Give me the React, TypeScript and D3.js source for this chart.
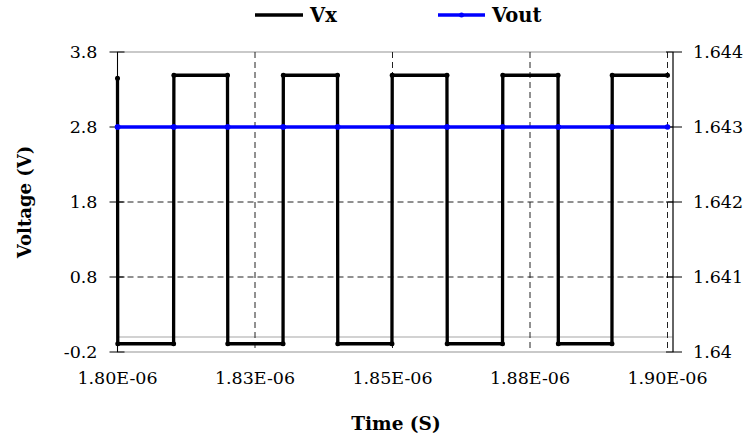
import React from "react";
import * as d3 from "d3";

// Time offsets from 1.80E-06 s, in nanoseconds
const timeNs = [0, 0.05, 10.2, 10.25, 20.0, 20.05, 30.1, 30.15, 40.0, 40.05, 49.9, 49.95, 59.9, 59.95, 70.0, 70.05, 80.1, 80.15, 89.9, 89.95, 100];
const vx = [3.45, -0.09, -0.09, 3.49, 3.49, -0.09, -0.09, 3.49, 3.49, -0.09, -0.09, 3.49, 3.49, -0.09, -0.09, 3.49, 3.49, -0.09, -0.09, 3.49, 3.49];
const vout = [1.643, 1.643, 1.643, 1.643, 1.643, 1.643, 1.643, 1.643, 1.643, 1.643, 1.643, 1.643, 1.643, 1.643, 1.643, 1.643, 1.643, 1.643, 1.643, 1.643, 1.643];

const xTickValues = [1.8e-6, 1.825e-6, 1.85e-6, 1.875e-6, 1.9e-6];
const xTickLabels = ["1.80E-06", "1.83E-06", "1.85E-06", "1.88E-06", "1.90E-06"];
const yLeftTicks = [-0.2, 0.8, 1.8, 2.8, 3.8];
const yLeftLabels = ["-0.2", "0.8", "1.8", "2.8", "3.8"];
const yRightTicks = [1.64, 1.641, 1.642, 1.643, 1.644];
const yRightLabels = ["1.64", "1.641", "1.642", "1.643", "1.644"];

const W = 754, H = 437;
const L = 117.5, R = 673, T = 52, B = 352;
const FONT = "'DejaVu Serif', serif";

export default function App() {
  const x = d3.scaleLinear().domain([1.8e-6, 1.901e-6]).range([L, R]);
  const y = d3.scaleLinear().domain([-0.2, 3.8]).range([B, T]);
  const y2 = d3.scaleLinear().domain([1.64, 1.644]).range([B, T]);
  const tSec = timeNs.map((t) => 1.8e-6 + t * 1e-9);

  const vxLine = d3.line<number>().x((_, i) => x(tSec[i])).y((d) => y(d));
  const voutLine = d3.line<number>().x((_, i) => x(tSec[i])).y((d) => y2(d));
  const txt = { fontFamily: FONT };

  return (
    <svg width={W} height={H} style={{ position: "absolute", left: 0, top: 0, background: "#fff" }}>
      {/* plot border (gray) */}
      <rect x={L} y={T} width={R - L} height={B - T} fill="none" stroke="#a6a6a6" strokeWidth={1.2} />
      {/* zero line */}
      <line x1={L} x2={R} y1={y(0)} y2={y(0)} stroke="#a6a6a6" strokeWidth={1.2} />
      {/* horizontal dashed gridlines */}
      {yLeftTicks.filter((v) => v > -0.2 && v < 3.8).map((v) => (
        <line key={"hg" + v} x1={L} x2={R} y1={y(v)} y2={y(v)} stroke="#222" strokeWidth={1} strokeDasharray="6,4" />
      ))}
      {/* vertical dashed gridlines */}
      {xTickValues.slice(1).map((v) => (
        <line key={"vg" + v} x1={x(v)} x2={x(v)} y1={T} y2={B} stroke="#222" strokeWidth={1} strokeDasharray="6,4" />
      ))}
      {/* left axis */}
      <line x1={L} x2={L} y1={T} y2={B} stroke="#000" strokeWidth={1} />
      {yLeftTicks.map((v, i) => (
        <g key={"yl" + v}>
          <line x1={L - 8} x2={L + 7} y1={y(v)} y2={y(v)} stroke="#000" strokeWidth={1} />
          <text x={L - 20} y={y(v)} dy="0.36em" textAnchor="end" style={txt} fontSize={17.5}>{yLeftLabels[i]}</text>
        </g>
      ))}
      {/* right axis */}
      <line x1={R} x2={R} y1={T} y2={B} stroke="#000" strokeWidth={1} />
      {yRightTicks.map((v, i) => (
        <g key={"yr" + v}>
          <line x1={R - 7} x2={R + 9} y1={y2(v)} y2={y2(v)} stroke="#000" strokeWidth={1} />
          <text x={R + 20} y={y2(v)} dy="0.36em" textAnchor="start" style={txt} fontSize={17.5}>{yRightLabels[i]}</text>
        </g>
      ))}
      {/* x tick labels */}
      {xTickValues.map((v, i) => (
        <text key={"xl" + v} x={x(v)} y={384} textAnchor="middle" style={txt} fontSize={17.5}>{xTickLabels[i]}</text>
      ))}
      {/* series */}
      <path d={vxLine(vx) || ""} fill="none" stroke="#000" strokeWidth={3.3} strokeLinejoin="miter" />
      {vx.map((v, i) => (
        <circle key={"vxm" + i} cx={x(tSec[i])} cy={y(v)} r={2.5} fill="#000" />
      ))}
      <path d={voutLine(vout) || ""} fill="none" stroke="#0000ff" strokeWidth={3.5} />
      {vout.map((v, i) => (
        <circle key={"vom" + i} cx={x(tSec[i])} cy={y2(v)} r={2.8} fill="#0000ff" />
      ))}
      {/* axis titles */}
      <text x={396} y={430} textAnchor="middle" style={txt} fontWeight="bold" fontSize={18.5}>Time (S)</text>
      <text transform={`translate(31,${(T + B) / 2}) rotate(-90)`} textAnchor="middle" style={txt} fontWeight="bold" fontSize={18}>Voltage (V)</text>
      {/* legend */}
      <line x1={255} x2={303} y1={15} y2={15} stroke="#000" strokeWidth={3.3} />
      <text x={310} y={22} style={txt} fontWeight="bold" fontSize={19.5}>Vx</text>
      <line x1={438} x2={485} y1={15} y2={15} stroke="#0000ff" strokeWidth={3.5} />
      <circle cx={461.5} cy={15} r={2.5} fill="#0000ff" />
      <text x={492} y={22} style={txt} fontWeight="bold" fontSize={19.5}>Vout</text>
    </svg>
  );
}
